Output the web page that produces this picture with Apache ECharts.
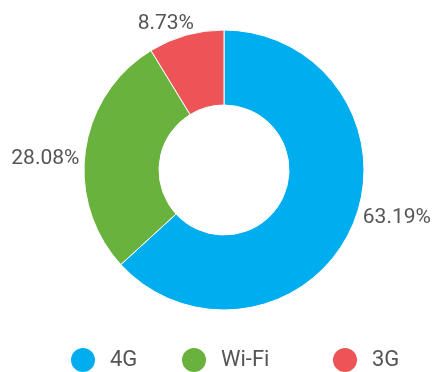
<!DOCTYPE html>
<html>
<head>
<meta charset="utf-8">
<script src="https://cdn.jsdelivr.net/npm/echarts@6/dist/echarts.min.js"></script>
<style>
  html, body { margin: 0; padding: 0; background: #fff; }
  #chart { width: 435px; height: 372px; }
</style>
</head>
<body>
<div id="chart"></div>
<script>
// Network type share (%)
const categories = ['4G', 'Wi-Fi', '3G'];
const shares = [63.19, 28.08, 8.73];
const colors = ['#00AEEF', '#6AB23E', '#EC5457'];

const FONT = 'Roboto, "Liberation Sans", sans-serif';

// small nudges for the outside labels, per slice
const labelNudge = [[2, -10], [3, 9], [14, -8]];

const chart = echarts.init(document.getElementById('chart'), null, { renderer: 'canvas' });

// one legend block per item so each swatch sits at its own spot
const legendLefts = [64, 175, 326];
const legends = categories.map((name, i) => ({
  data: [name],
  left: legendLefts[i],
  top: 341,
  icon: 'circle',
  itemWidth: 44,
  itemHeight: 26,
  itemGap: 0,
  textStyle: { fontFamily: FONT, fontSize: 22, color: '#555' },
  selectedMode: false
}));

chart.setOption({
  animation: false,
  color: colors,
  legend: legends,
  series: [{
    type: 'pie',
    center: [224, 170],
    radius: [65, 140],
    startAngle: 90,
    clockwise: true,
    avoidLabelOverlap: false,
    itemStyle: { borderColor: '#fff', borderWidth: 1 },
    label: {
      show: true,
      position: 'outside',
      formatter: p => p.value.toFixed(2) + '%',
      fontFamily: FONT,
      fontSize: 21,
      color: '#555'
    },
    labelLine: { show: false, length: 4, length2: 0 },
    labelLayout: p => ({ dx: labelNudge[p.dataIndex][0], dy: labelNudge[p.dataIndex][1] }),
    data: categories.map((name, i) => ({ name, value: shares[i] }))
  }]
});
</script>
</body>
</html>
